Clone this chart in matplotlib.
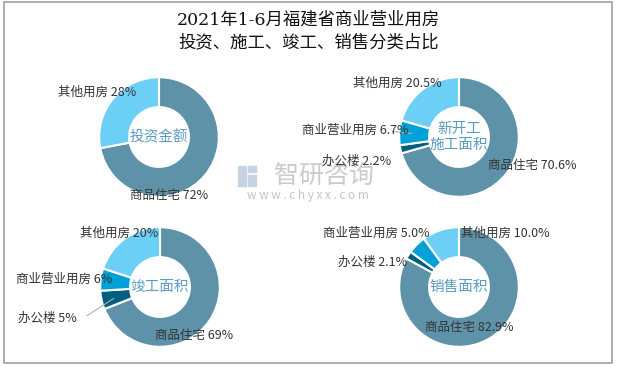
import matplotlib
matplotlib.use("Agg")
import numpy as np
import matplotlib.pyplot as plt
from matplotlib.patches import Rectangle

plt.rcParams['font.family'] = ['Noto Sans CJK SC', 'DejaVu Sans']

W, H = 617, 367

# data
names = ["商品住宅", "办公楼", "商业营业用房", "其他用房"]
colors = ["#5d92a9", "#005f80", "#00a0d9", "#6ccff5"]

invest = [72, 0, 0, 28]
newstart = [70.6, 2.2, 6.7, 20.5]
completed = [69, 5, 6, 20]
sales = [82.9, 2.1, 5.0, 10.0]

titles = ["投资金额", "新开工\n施工面积", "竣工面积", "销售面积"]
fmts = ["{:.0f}%", "{:.1f}%", "{:.0f}%", "{:.1f}%"]

# layout (pixels): donut centres and label anchors (left x, centre y)
centres = [(159, 137), (459, 137), (160, 287), (459, 287)]
R = 61
label_pos = [
    {"其他用房": (58, 92), "商品住宅": (130, 196)},
    {"其他用房": (353, 83), "商业营业用房": (302, 130), "办公楼": (322, 161), "商品住宅": (488, 165)},
    {"其他用房": (80, 233), "商业营业用房": (16, 279), "办公楼": (18, 318), "商品住宅": (155, 336)},
    {"其他用房": (461, 233), "商业营业用房": (323, 233), "办公楼": (338, 262), "商品住宅": (425, 328)},
]
leaders = [None, ("商业营业用房", (388, 131)), ("办公楼", (83, 318)), None]

fig = plt.figure(figsize=(W / 100, H / 100), dpi=100)

# frame
fig.patches.append(Rectangle((4 / W, 1 - 363 / H), 608 / W, 361 / H, transform=fig.transFigure,
                             fill=False, edgecolor="#a0a0a0", linewidth=1.2))

fig.text(0.5, 1 - 20 / H, "2021年1-6月福建省商业营业用房", ha="center", va="center",
         fontsize=12.5, family=['DejaVu Serif', 'Noto Sans CJK SC'], color="#111111")
fig.text(0.5, 1 - 43 / H, "投资、施工、竣工、销售分类占比", ha="center", va="center",
         fontsize=12.5, family=['DejaVu Serif', 'Noto Sans CJK SC'], color="#111111")

# watermark
fig.patches.append(Rectangle((238 / W, 1 - 186 / H), 8 / W, 20 / H, transform=fig.transFigure,
                             color="#c6d3e3", zorder=0))
fig.patches.append(Rectangle((248 / W, 1 - 186 / H), 8 / W, 11 / H, transform=fig.transFigure,
                             color="#c6d3e3", zorder=0))
fig.patches.append(Rectangle((248 / W, 1 - 172 / H), 8 / W, 6 / H, transform=fig.transFigure,
                             color="#c6d3e3", zorder=0))
fig.text(324 / W, 1 - 176 / H, "智研咨询", ha="center", va="center", fontsize=18, color="#cbcbcb")
fig.text(308 / W, 1 - 196 / H, "w w w . c h y x x . c o m", ha="center", va="center",
         fontsize=8.5, color="#c4c4c4")

for k, vals in enumerate([invest, newstart, completed, sales]):
    cx, cy = centres[k]
    ax = fig.add_axes([(cx - R) / W, (H - cy - R) / H, 2 * R / W, 2 * R / H])
    idx = [i for i, v in enumerate(vals) if v > 0]
    v = [vals[i] for i in idx]
    wedges, _ = ax.pie(v, colors=[colors[i] for i in idx], startangle=90, counterclock=False,
                       radius=1, wedgeprops=dict(width=0.5, edgecolor="white", linewidth=1.5))
    ax.set_xlim(-1.02, 1.02)
    ax.set_ylim(-1.02, 1.02)
    ax.axis("off")
    ax.text(0, 0, titles[k], ha="center", va="center", fontsize=10.5, color="#5b9bc0",
            linespacing=1.2)

    for i in idx:
        px, py = label_pos[k][names[i]]
        fig.text(px / W, 1 - py / H, names[i] + " " + fmts[k].format(vals[i]),
                 ha="left", va="center", fontsize=9, color="#333333")

    if leaders[k] is not None:
        nm, (lx, ly) = leaders[k]
        w = wedges[idx.index(names.index(nm))]
        ang = np.deg2rad((w.theta1 + w.theta2) / 2)
        ax.annotate("", xy=(0.75 * np.cos(ang), 0.75 * np.sin(ang)),
                    xytext=((lx - cx) / R, (cy - ly) / R),
                    arrowprops=dict(arrowstyle="-", color="#b0b0b0", lw=0.8),
                    annotation_clip=False)

fig.savefig("out.png", dpi=100)
